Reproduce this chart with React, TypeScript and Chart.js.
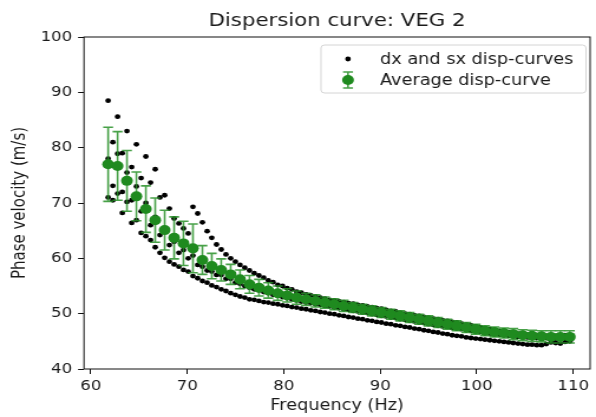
import React, { useEffect, useRef } from "react";
import { Chart, registerables } from "chart.js";

Chart.register(...registerables);

const TITLE = "Dispersion curve: VEG 2";
const X_LABEL = "Frequency (Hz)";
const Y_LABEL = "Phase velocity (m/s)";
const LEGEND_DOTS = "dx and sx disp-curves";
const LEGEND_AVG = "Average disp-curve";

const xTicks = [60, 70, 80, 90, 100, 110];
const yTicks = [40, 50, 60, 70, 80, 90, 100];

// frequency grids (Hz)
const freqDx = [
  61.8, 62.78, 63.75, 64.73, 65.71, 66.68, 67.66, 68.64, 69.61, 70.59,
  71.57, 72.54, 73.52, 74.5, 75.47, 76.45, 77.43, 78.4, 79.38, 80.35,
  81.33, 82.31, 83.29, 84.26, 85.24, 86.21, 87.19, 88.17, 89.14, 90.12,
  91.1, 92.07, 93.05, 94.03, 95.0, 95.98, 96.96, 97.93, 98.91, 99.89,
  100.86, 101.84, 102.82, 103.79, 104.77, 105.74, 106.72, 107.7, 108.67, 109.65,
];
const freqSx = [
  62.29, 63.27, 64.24, 65.22, 66.2, 67.17, 68.15, 69.13, 70.1, 71.08,
  72.06, 73.03, 74.01, 74.99, 75.96, 76.94, 77.92, 78.89, 79.87, 80.84,
  81.82, 82.8, 83.78, 84.75, 85.73, 86.7, 87.68, 88.66, 89.63, 90.61,
  91.59, 92.56, 93.54, 94.52, 95.49, 96.47, 97.45, 98.42, 99.4, 100.38,
  101.35, 102.33, 103.31, 104.28, 105.26, 106.23, 107.21, 108.19, 109.16,
];

// average curve (m/s) and its error (m/s)
const avgVel = [
  77.0, 76.7, 74.0, 71.2, 68.9, 66.9, 65.1, 63.7, 62.7, 61.8,
  59.7, 58.6, 57.9, 57.1, 56.2, 55.3, 54.7, 54.2, 53.7, 53.3,
  52.9, 52.6, 52.3, 52.0, 51.7, 51.4, 51.1, 50.8, 50.5, 50.2,
  49.9, 49.6, 49.3, 49.0, 48.7, 48.4, 48.1, 47.8, 47.5, 47.2,
  46.9, 46.7, 46.5, 46.3, 46.1, 46.0, 45.9, 45.8, 45.8, 45.8,
];
const avgErr = [
  6.7, 6.2, 5.5, 4.4, 4.2, 4.0, 3.6, 3.8, 4.0, 4.4,
  2.6, 2.3, 2.0, 1.8, 1.7, 1.6, 1.5, 1.4, 1.3, 1.2,
  1.2, 1.1, 1.1, 1.0, 1.0, 1.0, 0.9, 0.9, 0.9, 0.9,
  0.9, 0.9, 0.9, 0.9, 0.9, 0.9, 0.9, 0.9, 0.9, 0.9,
  0.9, 0.9, 0.9, 1.0, 1.0, 1.0, 1.0, 1.1, 1.1, 1.1,
];

// individual dx / sx curves (m/s)
const dx1 = [
  88.5, 85.6, 83.0, 80.6, 78.4, 76.1, 71.4, 67.2, 65.4, 69.3,
  66.5, 63.7, 61.6, 60.0, 58.8, 57.8, 56.9, 56.0, 55.2, 54.6,
  54.0, 53.5, 53.1, 52.7, 52.4, 52.1, 51.8, 51.5, 51.2, 50.9,
  50.5, 50.2, 49.9, 49.6, 49.3, 49.0, 48.7, 48.4, 48.0, 47.7,
  47.4, 47.0, 46.7, 46.5, 46.3, 46.1, 46.0, 46.0, 46.0, 46.1,
];
const sx1 = [
  81.0, 79.0, 76.5, 74.5, 73.7, 71.0, 69.0, 66.3, 64.5, 68.1,
  64.9, 62.5, 60.7, 59.4, 58.3, 57.3, 56.5, 55.7, 55.0, 54.4,
  53.8, 53.3, 52.9, 52.5, 52.2, 51.9, 51.6, 51.3, 51.0, 50.7,
  50.4, 50.0, 49.7, 49.4, 49.1, 48.8, 48.5, 48.2, 47.9, 47.5,
  47.2, 46.9, 46.6, 46.4, 46.2, 46.1, 46.0, 46.0, 46.1,
];
const dx2 = [
  71.0, 71.7, 70.2, 66.9, 64.0, 62.0, 60.1, 58.9, 57.9, 56.8,
  55.9, 55.1, 54.4, 53.7, 53.1, 52.6, 52.3, 52.0, 51.7, 51.4,
  51.1, 50.8, 50.5, 50.2, 49.9, 49.6, 49.3, 49.0, 48.7, 48.4,
  48.1, 47.8, 47.5, 47.2, 46.9, 46.6, 46.3, 46.0, 45.7, 45.5,
  45.3, 45.1, 44.9, 44.7, 44.5, 44.4, 44.3, 44.8, 44.6, 45.0,
];
const sx2 = [
  70.5, 68.2, 66.4, 64.6, 63.3, 61.0, 59.4, 58.5, 57.6, 56.4,
  55.6, 54.8, 54.1, 53.4, 52.9, 52.5, 52.1, 51.8, 51.5, 51.2,
  50.9, 50.6, 50.3, 50.0, 49.7, 49.4, 49.1, 48.8, 48.5, 48.2,
  47.9, 47.6, 47.3, 47.0, 46.7, 46.4, 46.1, 45.9, 45.6, 45.4,
  45.2, 45.0, 44.8, 44.6, 44.4, 44.3, 44.5, 44.7, 44.9,
];
const dx3 = [
  78.0, 78.9, 75.5, 73.0, 70.0, 67.5, 65.0, 63.0, 61.5, 60.5,
  58.5, 57.6, 57.0, 56.3, 55.4, 54.7, 54.2, 53.7, 53.2, 52.8,
  52.4, 52.0, 51.7, 51.4, 51.1, 50.8, 50.5, 50.2, 49.9, 49.6,
  49.3, 49.0, 48.7, 48.4, 48.1, 47.8, 47.6, 47.3, 47.0, 46.8,
  46.5, 46.3, 46.1, 45.9, 45.7, 45.6, 45.5, 45.5, 45.6, 45.6,
];
const sx3 = [
  73.1, 72.0, 70.5, 68.5, 66.0, 64.2, 62.4, 61.0, 60.0, 58.8,
  57.8, 57.0, 56.3, 55.6, 55.0, 54.4, 53.9, 53.4, 53.0, 52.6,
  52.2, 51.9, 51.6, 51.3, 51.0, 50.7, 50.4, 50.1, 49.8, 49.5,
  49.2, 48.9, 48.6, 48.3, 48.0, 47.7, 47.4, 47.2, 46.9, 46.7,
  46.4, 46.2, 46.0, 45.8, 45.7, 45.6, 45.6, 45.5, 45.6,
];

const CW = 505;
const CH = 417;
const STRETCH = 596 / CW;
const FONT = "'DejaVu Sans', sans-serif";
const GREEN = "#1f8a1f";
const ERR_GREEN = "rgba(40,145,40,0.85)";
const TEXT = "#1a1a1a";

export default function App() {
  const ref = useRef<HTMLCanvasElement>(null);

  useEffect(() => {
    document.body.style.margin = "0";
    document.body.style.overflow = "hidden";
    const canvas = ref.current!;
    const pts = (fs: number[], vs: number[]) => vs.map((v, i) => ({ x: fs[i], y: v }));
    const dots = [
      ...pts(freqDx, dx1), ...pts(freqSx, sx1),
      ...pts(freqDx, dx2), ...pts(freqSx, sx2),
      ...pts(freqDx, dx3), ...pts(freqSx, sx3),
    ];

    const errorBars = {
      id: "errorBars",
      beforeDatasetDraw(chart: any, args: any) {
        if (args.index !== 0) return;
        const { ctx, scales } = chart;
        const xs = scales.x, ys = scales.y;
        ctx.save();
        ctx.strokeStyle = ERR_GREEN;
        ctx.lineWidth = 1.6;
        const cap = 4.2;
        avgVel.forEach((v, i) => {
          const x = xs.getPixelForValue(freqDx[i]);
          const yt = ys.getPixelForValue(v + avgErr[i]);
          const yb = ys.getPixelForValue(v - avgErr[i]);
          ctx.beginPath();
          ctx.moveTo(x, yt); ctx.lineTo(x, yb);
          ctx.moveTo(x - cap, yt); ctx.lineTo(x + cap, yt);
          ctx.moveTo(x - cap, yb); ctx.lineTo(x + cap, yb);
          ctx.stroke();
        });
        ctx.restore();
      },
    };

    const frame = {
      id: "frame",
      afterDatasetsDraw(chart: any) {
        const { ctx, chartArea: a } = chart;
        ctx.save();
        ctx.strokeStyle = "#111";
        ctx.lineWidth = 1;
        ctx.strokeRect(a.left, a.top, a.right - a.left, a.bottom - a.top);
        ctx.restore();
      },
    };

    const legendBox = {
      id: "legendBox",
      afterDraw(chart: any) {
        const { ctx } = chart;
        const L = 321 / STRETCH, R = 586 / STRETCH, T = 45, B = 93;
        ctx.save();
        ctx.beginPath();
        (ctx as any).roundRect(L, T, R - L, B - T, 3);
        ctx.fillStyle = "rgba(255,255,255,0.85)";
        ctx.fill();
        ctx.strokeStyle = "#d4d4d4";
        ctx.lineWidth = 1;
        ctx.stroke();
        const mx = 348 / STRETCH;
        const tx = 380 / STRETCH;
        // row 1: black dot
        ctx.fillStyle = "#000";
        ctx.beginPath();
        ctx.arc(mx, 59, 2.4, 0, Math.PI * 2);
        ctx.fill();
        // row 2: green marker with error bar
        ctx.strokeStyle = ERR_GREEN;
        ctx.lineWidth = 1.6;
        ctx.beginPath();
        ctx.moveTo(mx, 72); ctx.lineTo(mx, 88);
        ctx.moveTo(mx - 4.2, 72); ctx.lineTo(mx + 4.2, 72);
        ctx.moveTo(mx - 4.2, 88); ctx.lineTo(mx + 4.2, 88);
        ctx.stroke();
        ctx.fillStyle = GREEN;
        ctx.beginPath();
        ctx.arc(mx, 80, 5, 0, Math.PI * 2);
        ctx.fill();
        ctx.fillStyle = TEXT;
        ctx.font = `15px ${FONT}`;
        ctx.textAlign = "left";
        ctx.textBaseline = "alphabetic";
        ctx.fillText(LEGEND_DOTS, tx, 63.5);
        ctx.fillText(LEGEND_AVG, tx, 85);
        ctx.restore();
      },
    };

    const chart = new Chart(canvas, {
      type: "scatter",
      data: {
        datasets: [
          {
            label: LEGEND_AVG,
            data: pts(freqDx, avgVel),
            pointRadius: 5,
            pointHoverRadius: 5,
            backgroundColor: GREEN,
            borderWidth: 0,
          },
          {
            label: LEGEND_DOTS,
            data: dots,
            pointRadius: 2.4,
            pointHoverRadius: 2.4,
            backgroundColor: "#000",
            borderWidth: 0,
          },
        ],
      },
      options: {
        animation: false,
        responsive: false,
        maintainAspectRatio: false,
        devicePixelRatio: 1,
        layout: { padding: { left: 0, right: CW - 593 / STRETCH, top: 0, bottom: 0 } },
        plugins: {
          legend: { display: false },
          tooltip: { enabled: false },
          title: {
            display: true,
            text: TITLE,
            fullSize: false,
            color: TEXT,
            font: { family: FONT, size: 18, weight: "normal" },
            padding: { top: 11, bottom: 4.4 },
          },
        },
        scales: {
          x: {
            type: "linear",
            position: "bottom",
            min: 59.3,
            max: 111.75,
            afterBuildTicks: (s: any) => { s.ticks = xTicks.map((v) => ({ value: v })); },
            afterFit: (s: any) => { s.height = 48; },
            ticks: { color: TEXT, font: { family: FONT, size: 14 }, padding: 4, maxRotation: 0, includeBounds: false },
            grid: { drawOnChartArea: false, drawTicks: true, tickLength: 5, tickColor: "#111", tickWidth: 1 },
            border: { display: false },
            title: { display: true, text: X_LABEL, color: TEXT, font: { family: FONT, size: 15 }, padding: { top: 0, bottom: 2 } },
          },
          y: {
            type: "linear",
            min: 40,
            max: 100,
            afterBuildTicks: (s: any) => { s.ticks = yTicks.map((v) => ({ value: v })); },
            afterFit: (s: any) => { s.width = 84 / STRETCH; },
            ticks: { color: TEXT, font: { family: FONT, size: 14 }, padding: 5 },
            grid: { drawOnChartArea: false, drawTicks: true, tickLength: 5, tickColor: "#111", tickWidth: 1 },
            border: { display: false },
            title: { display: true, text: Y_LABEL, color: TEXT, font: { family: FONT, size: 15 }, padding: { top: 7.7, bottom: 0 } },
          },
        },
      } as any,
      plugins: [errorBars, frame, legendBox],
    });
    return () => chart.destroy();
  }, []);

  return (
    <div style={{ width: CW, height: CH, transform: `scaleX(${STRETCH})`, transformOrigin: "0 0" }}>
      <canvas ref={ref} width={CW} height={CH} style={{ display: "block" }} />
    </div>
  );
}
